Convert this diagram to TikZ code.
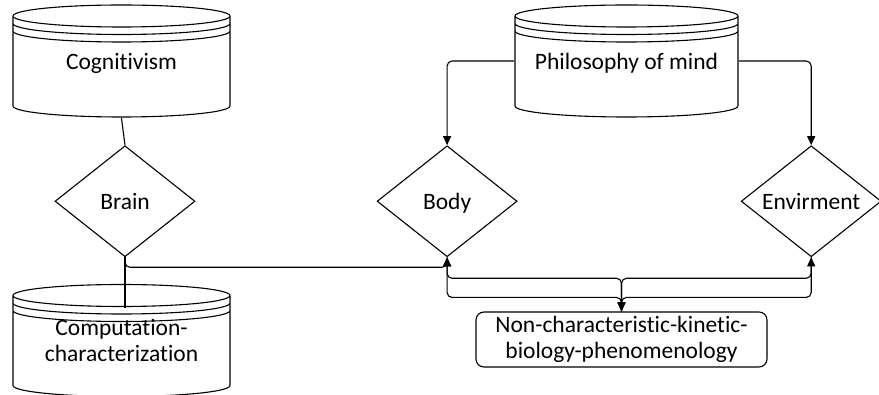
\documentclass[tikz,border=0pt]{standalone}
\usepackage{fontspec}
\setmainfont{Carlito}[Ligatures=NoCommon]
\usepackage{tikz}
\usetikzlibrary{shapes.geometric,arrows.meta,positioning,calc}
\newcommand{\diafont}{\fontsize{23.5}{26.5}\selectfont}
\tikzset{
  link/.style={line width=1.1pt, draw=black},
  arrow/.style={link, -{Triangle[length=9pt,width=8pt]}, rounded corners=5pt},
  datastore/.style={rectangle, inner sep=0pt, align=center, text depth=0pt,
                    minimum width=219pt, minimum height=114pt, font=\diafont,
                    path picture={
                      \draw[link] let \p1=(path picture bounding box.north west),
                                      \p2=(path picture bounding box.south east),
                                      \n1={(\x2-\x1)/2-1pt} in
                        ({(\x1+\x2)/2},\y1-12pt) ellipse[x radius=\n1, y radius=11pt]
                        (\x1+1pt,\y1-12pt) -- (\x1+1pt,\y2+12pt)
                          arc[start angle=180, end angle=360, x radius=\n1, y radius=11pt]
                          -- (\x2-1pt,\y1-12pt)
                        (\x1+1pt,\y1-19.5pt) arc[start angle=180, end angle=360, x radius=\n1, y radius=11pt]
                        (\x1+1pt,\y1-27pt) arc[start angle=180, end angle=360, x radius=\n1, y radius=11pt];
                    }},
  decision/.style={diamond, draw=black, line width=1.1pt, aspect=1.26, inner sep=0pt,
                   text depth=0pt, minimum width=140pt, minimum height=111pt, font=\diafont},
  outcome/.style={rectangle, rounded corners=8pt, draw=black, line width=1.1pt,
                  minimum width=291pt, minimum height=55pt, inner sep=0pt,
                  align=center, font=\diafont}
}
\begin{document}
\begin{tikzpicture}[x=1pt, y=1pt]
\useasboundingbox (0,0) rectangle (879,-395);
\node[datastore] (cog) at (121.5,-61) {Cognitivism};
\node[decision, below=27pt of cog, xshift=3.5pt] (brain) {Brain};
\node[datastore, below=26pt of brain, xshift=-3.5pt] (comp) {Computation-\\characterization};
\node[decision, right=181pt of brain] (body) {Body};
\node[decision, right=223pt of body] (env) {Envirment};
\node[datastore, minimum width=225pt] (phil) at (626.5,-61) {Philosophy of mind};
\node[outcome] (box) at (621.5,-339.5) {Non-characteristic-kinetic-\\biology-phenomenology};
\coordinate (comptop) at ([yshift=-25pt]comp.north);

\draw[link] (cog.south) -- (brain.north);
\draw[link] (brain.south) -- (brain.south |- comptop);
\draw[arrow] (brain.south) -- ++(0,-10) -| (body.south);
\draw[arrow] (phil.west) -| (body.north);
\draw[arrow] (phil.east) -| (env.north);
\draw[arrow] (body.south) -- ++(0,-21) -| (box.north);
\draw[arrow] (env.south) -- ++(0,-21) -| (box.north);
\draw[arrow] (box.north) -- ++(0,14) -| (body.south);
\draw[arrow] (box.north) -- ++(0,14) -| (env.south);
\end{tikzpicture}
\end{document}
